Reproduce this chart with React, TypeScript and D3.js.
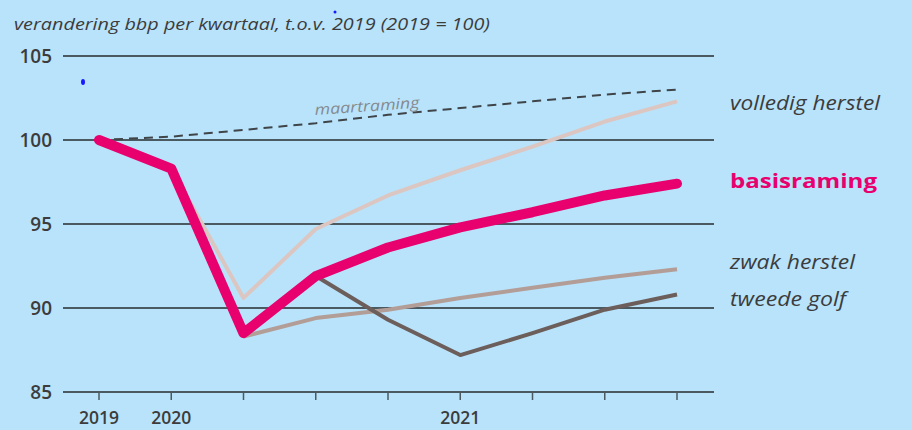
import React from "react";
import * as d3 from "d3";

const quarters = ["2019Q4", "2020Q1", "2020Q2", "2020Q3", "2020Q4", "2021Q1", "2021Q2", "2021Q3", "2021Q4"];
const yTicks = [85, 90, 95, 100, 105];
const xLabels: { q: string; label: string }[] = [
  { q: "2019Q4", label: "2019" },
  { q: "2020Q1", label: "2020" },
  { q: "2021Q1", label: "2021" },
];
const maartraming = [100, 100.2, 100.6, 101.0, 101.5, 101.9, 102.3, 102.7, 103.0];
const basisraming = [100, 98.3, 88.5, 91.9, 93.6, 94.8, 95.7, 96.7, 97.4];
const volledigHerstel = [null, 98.3, 90.6, 94.7, 96.7, 98.2, 99.6, 101.1, 102.3];
const zwakHerstel = [null, null, 88.3, 89.4, 89.9, 90.6, 91.2, 91.8, 92.3];
const tweedeGolf = [null, null, null, 91.9, 89.3, 87.2, 88.5, 89.9, 90.8];
const legendLabels = [
  { text: "volledig herstel", width: 150, pink: false },
  { text: "basisraming", width: 147, pink: true },
  { text: "zwak herstel", width: 125, pink: false },
  { text: "tweede golf", width: 116, pink: false },
];

const W = 912, H = 430;
const BG = "#b8e3fb";
const GRID = "#4b5a60";
const TEXT = "#3c3c3c";
const PINK = "#e8006f";

export default function App() {
  const x = d3.scalePoint<string>().domain(quarters).range([99, 677]);
  const y = d3.scaleLinear().domain([85, 105]).range([392, 56]);
  const line = d3
    .line<number | null>()
    .defined((d) => d !== null)
    .x((_, i) => x(quarters[i]) as number)
    .y((d) => y(d as number));

  const font = "'Open Sans', 'Noto Sans', sans-serif";
  const legendY = [103, 181, 262, 299];

  return (
    <div style={{ position: "absolute", left: 0, top: 0 }}>
      <svg width={W} height={H} style={{ display: "block" }}>
        <rect width={W} height={H} fill={BG} />
        <text x={14} y={30} fontFamily={font} fontStyle="italic" fontSize={17} fill={TEXT} textLength={476} lengthAdjust="spacingAndGlyphs">
          verandering bbp per kwartaal, t.o.v. 2019 (2019 = 100)
        </text>
        {yTicks.map((t) => (
          <g key={t}>
            <line x1={63} x2={714} y1={y(t)} y2={y(t)} stroke={GRID} strokeWidth={2} />
            <text x={52} y={y(t)} dy="0.36em" textAnchor="end" fontFamily={font} fontWeight={600} fontSize={19} fill={TEXT}>
              {t}
            </text>
          </g>
        ))}
        {quarters.map((q) => (
          <line key={q} x1={x(q)} x2={x(q)} y1={y(85)} y2={y(85) + 8} stroke={GRID} strokeWidth={1.5} />
        ))}
        {xLabels.map((l) => (
          <text key={l.q} x={x(l.q)} y={424} textAnchor="middle" fontFamily={font} fontWeight={600} fontSize={17.5} fill={TEXT}>
            {l.label}
          </text>
        ))}
        <path d={line(maartraming) || ""} fill="none" stroke="#3e4448" strokeWidth={2} strokeDasharray="9 6" />
        <text
          x={315}
          y={115}
          fontFamily={font}
          fontStyle="italic"
          fontSize={15}
          fill="#858a8e"
          textLength={105}
          lengthAdjust="spacingAndGlyphs"
          transform="rotate(-4 315 115)"
        >
          maartraming
        </text>
        <path d={line(volledigHerstel) || ""} fill="none" stroke="#dcc6c2" strokeWidth={4} strokeLinejoin="round" />
        <path d={line(zwakHerstel) || ""} fill="none" stroke="#b39d97" strokeWidth={4} strokeLinejoin="round" />
        <path d={line(tweedeGolf) || ""} fill="none" stroke="#6c5e5a" strokeWidth={4} strokeLinejoin="round" />
        <path d={line(basisraming) || ""} fill="none" stroke={PINK} strokeWidth={10} strokeLinejoin="round" strokeLinecap="round" />
        {legendLabels.map((l, i) => (
          <text
            key={l.text}
            x={730}
            y={legendY[i]}
            dy="0.35em"
            fontFamily={font}
            fontStyle={l.pink ? "normal" : "italic"}
            fontWeight={l.pink ? "bold" : "normal"}
            fontSize={20}
            fill={l.pink ? PINK : TEXT}
            textLength={l.width}
            lengthAdjust="spacingAndGlyphs"
          >
            {l.text}
          </text>
        ))}
        <ellipse cx={83} cy={82} rx={2} ry={3} fill="#1a1aff" />
        <ellipse cx={335} cy={12} rx={1.5} ry={1.5} fill="#1a1aff" />
      </svg>
    </div>
  );
}
